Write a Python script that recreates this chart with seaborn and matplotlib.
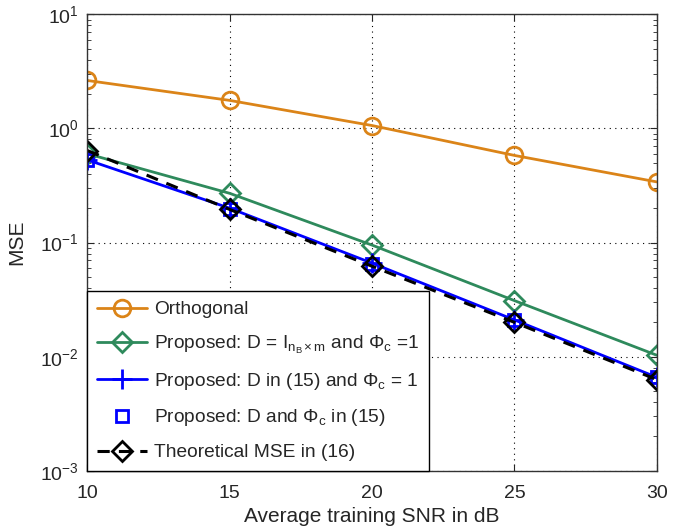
import numpy as np
import pandas as pd
import matplotlib
matplotlib.use('Agg')
import matplotlib.pyplot as plt
import seaborn as sns

# values (log scale)
snr = [10, 15, 20, 25, 30]
mse_orth = [2.63, 1.76, 1.06, 0.58, 0.34]
mse_prop_eye = [0.60, 0.27, 0.095, 0.031, 0.0103]
mse_prop_d = [0.53, 0.20, 0.066, 0.021, 0.0066]
mse_prop_dphi = [0.53, 0.195, 0.065, 0.021, 0.0066]
mse_theory = [0.64, 0.195, 0.062, 0.020, 0.0063]

sns.set_style('ticks')
plt.rcParams['font.family'] = ['Liberation Sans', 'DejaVu Sans']
plt.rcParams['mathtext.fontset'] = 'custom'
plt.rcParams['mathtext.rm'] = 'Liberation Sans'
plt.rcParams['mathtext.it'] = 'Liberation Sans'

fig = plt.figure(figsize=(6.82, 5.29), dpi=100)
ax = fig.add_axes([0.128, 0.11, 0.835, 0.863])

sns.lineplot(x=snr, y=mse_orth, ax=ax, color='#DB8418', lw=2, marker='o',
             markersize=12, markerfacecolor='none', markeredgewidth=2,
             markeredgecolor='#DB8418', label='Orthogonal')
sns.lineplot(x=snr, y=mse_prop_eye, ax=ax, color='#2E8A5C', lw=2, marker='D',
             markersize=10, markerfacecolor='none', markeredgewidth=2,
             markeredgecolor='#2E8A5C',
             label=r'Proposed: D = I$_{n_{\rm B}\times{\rm m}}$ and $\Phi_{\rm c}$ =1')
sns.lineplot(x=snr, y=mse_prop_d, ax=ax, color='#0000FF', lw=2, marker='+',
             markersize=14, markeredgewidth=2, markeredgecolor='#0000FF',
             label=r'Proposed: D in (15) and $\Phi_{\rm c}$ = 1')
sns.lineplot(x=snr, y=mse_prop_dphi, ax=ax, color='#0000FF', lw=0, marker='s',
             markersize=9, markerfacecolor='none', markeredgewidth=2,
             markeredgecolor='#0000FF',
             label=r'Proposed: D and $\Phi_{\rm c}$ in (15)')
sns.lineplot(x=snr, y=mse_theory, ax=ax, color='black', lw=2.2, linestyle=(0, (4, 3)),
             marker='D', markersize=10, markerfacecolor='none', markeredgewidth=2,
             markeredgecolor='black', label='Theoretical MSE in (16)')

ax.set_yscale('log')
ax.set_xlim(10, 30)
ax.set_ylim(1e-3, 1e1)
ax.set_xticks([10, 15, 20, 25, 30])
ax.tick_params(which='both', direction='in', top=True, right=True, labelsize=14)
ax.tick_params(axis='x', pad=10)
ax.tick_params(axis='y', pad=6)
ax.tick_params(which='major', length=5)
ax.tick_params(which='minor', length=3)
ax.xaxis.set_minor_locator(matplotlib.ticker.NullLocator())
ax.grid(True, which='major', color='black', linestyle=(0, (1, 4)), lw=0.8)
for s in ax.spines.values():
    s.set_color('#333333')
    s.set_linewidth(1)

ax.set_xlabel('Average training SNR in dB', fontsize=15, labelpad=4)
ax.set_ylabel('MSE', fontsize=15, labelpad=10)

leg = ax.legend(loc='lower left', fontsize=13.8, frameon=True, fancybox=False,
                edgecolor='black', framealpha=1, borderaxespad=0,
                handlelength=2.6, handletextpad=0.4, labelspacing=0.8,
                borderpad=0.5)
leg.get_frame().set_linewidth(1)

fig.savefig('out.png', dpi=100)
